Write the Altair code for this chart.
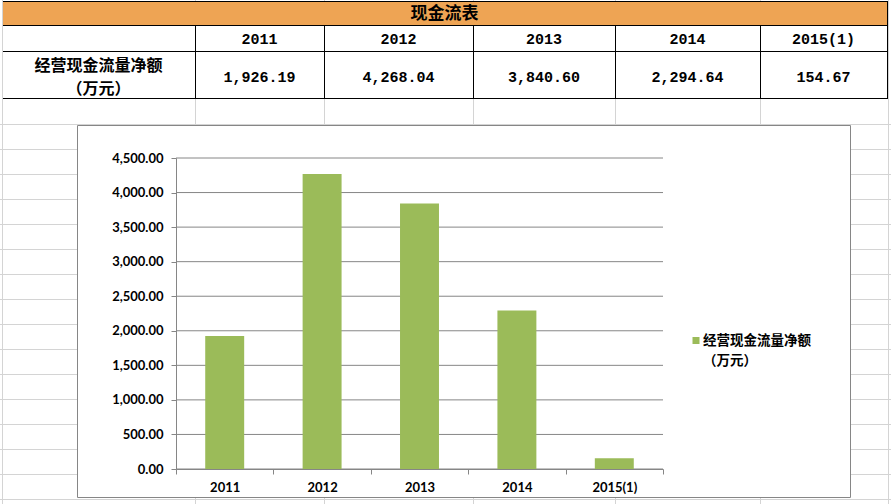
import altair as alt
import pandas as pd

# ---------------- data ----------------
years = ["2011", "2012", "2013", "2014", "2015(1)"]
cash_flow = [1926.19, 4268.04, 3840.60, 2294.64, 154.67]
series_name = "经营现金流量净额\n（万元）"
table_title = "现金流表"
y_ticks = [0, 500, 1000, 1500, 2000, 2500, 3000, 3500, 4000, 4500]

# ---------------- layout (page pixels) ----------------
PAGE_W, PAGE_H = 891, 504
OX, OY = 176, 158          # plot-area origin on the page
PW, PH = 487, 311          # plot-area size
col_edges = [2, 195, 324, 473, 615, 760, 887]
row_edges = [1, 25, 51, 98]
sheet_cols = [2, 195, 324, 473, 615, 760, 888]
sheet_rows = list(range(124, PAGE_H + 1, 25))
box = (77, 125, 850, 497)
legend_sym = (696, 340.5)
legend_text_x = 703
legend_line_y = [340.5, 360.5]
label_line_y = [65.5, 89]

GRID_GRAY = "#868686"
SHEET_GRAY = "#D4D4D4"
ORANGE = "#EEA454"
GREEN = "#9BBB59"


def px(x):
    return x - OX


def py(y):
    return y - OY


def PX(f):
    return alt.X(f"{f}:Q", scale=None, axis=None)


def PY(f):
    return alt.Y(f"{f}:Q", scale=None, axis=None)


# ---------- spreadsheet gridlines ----------
sheet_lines = []
for y in sheet_rows:
    sheet_lines.append(dict(x=px(0), x2=px(PAGE_W), y=py(y + 0.5), y2=py(y + 0.5)))
for x in sheet_cols:
    sheet_lines.append(dict(x=px(x + 0.5), x2=px(x + 0.5), y=py(0), y2=py(PAGE_H)))
sheet_layer = alt.Chart(pd.DataFrame(sheet_lines)).mark_rule(
    color=SHEET_GRAY, strokeWidth=1
).encode(x=PX("x"), x2="x2", y=PY("y"), y2="y2")

# ---------- table fills ----------
fills = pd.DataFrame([
    dict(x=px(col_edges[0] + 1), x2=px(col_edges[-1] + 1), y=py(row_edges[0]),
         y2=py(row_edges[1] + 0.5), c=ORANGE),
    dict(x=px(col_edges[0] + 1), x2=px(col_edges[-1] + 1), y=py(row_edges[1] + 0.5),
         y2=py(row_edges[-1] + 1), c="white"),
])
fill_layer = alt.Chart(fills).mark_rect(strokeWidth=0).encode(
    x=PX("x"), x2="x2", y=PY("y"), y2="y2", color=alt.Color("c:N", scale=None)
)

# ---------- table borders ----------
tlines = []
for y in row_edges:
    tlines.append(dict(x=px(col_edges[0] + 1), x2=px(col_edges[-1] + 1),
                       y=py(y + 0.5), y2=py(y + 0.5)))
for x in col_edges[1:-1]:
    tlines.append(dict(x=px(x + 0.5), x2=px(x + 0.5),
                       y=py(row_edges[1]), y2=py(row_edges[-1] + 1)))
tlines.append(dict(x=px(col_edges[-1] + 0.5), x2=px(col_edges[-1] + 0.5),
                   y=py(row_edges[0]), y2=py(row_edges[-1] + 1)))
tline_layer = alt.Chart(pd.DataFrame(tlines)).mark_rule(
    color="black", strokeWidth=1
).encode(x=PX("x"), x2="x2", y=PY("y"), y2="y2")

# ---------- table text ----------
title_df = pd.DataFrame([dict(t=table_title, x=px((col_edges[0] + col_edges[-1]) / 2),
                              y=py(13.5))])
title_layer = alt.Chart(title_df).mark_text(
    font="Noto Sans CJK SC", fontSize=17, fontWeight="bold", color="black",
    baseline="middle", align="center"
).encode(x=PX("x"), y=PY("y"), text="t:N")

label_lines = series_name.split("\n")
label_df = pd.DataFrame([
    dict(t=label_lines[i], x=px((col_edges[0] + col_edges[1]) / 2), y=py(label_line_y[i]))
    for i in range(len(label_lines))
])
label_layer = alt.Chart(label_df).mark_text(
    font="Noto Sans CJK SC", fontSize=16, fontWeight="bold", color="black",
    baseline="middle", align="center"
).encode(x=PX("x"), y=PY("y"), text="t:N")

centers = [(col_edges[i + 1] + col_edges[i + 2]) / 2 for i in range(len(years))]
year_df = pd.DataFrame(dict(t=years, x=[px(c) for c in centers], y=py(39)))
year_layer = alt.Chart(year_df).mark_text(
    font="Liberation Mono", fontSize=15, fontWeight="bold", color="black",
    baseline="middle", align="center"
).encode(x=PX("x"), y=PY("y"), text="t:N")

val_df = pd.DataFrame(dict(value=cash_flow, x=[px(c) for c in centers], y=py(77)))
val_layer = alt.Chart(val_df).mark_text(
    font="Liberation Mono", fontSize=15, fontWeight="bold", color="black",
    baseline="middle", align="center"
).encode(x=PX("x"), y=PY("y"), text=alt.Text("value:Q", format=",.2f"))

# ---------- chart box ----------
box_df = pd.DataFrame([dict(x=px(box[0] + 0.5), x2=px(box[2] + 0.5),
                            y=py(box[1] + 0.5), y2=py(box[3] + 0.5))])
box_layer = alt.Chart(box_df).mark_rect(
    fill="white", stroke=GRID_GRAY, strokeWidth=1
).encode(x=PX("x"), x2="x2", y=PY("y"), y2="y2")

# ---------- axes ----------
y_axis = alt.Axis(title=None, values=y_ticks, format=",.2f", grid=False,
                  domainColor=GRID_GRAY, tickColor=GRID_GRAY, tickSize=5,
                  labelFont="Lato", labelFontSize=13, labelFontWeight="bold",
                  labelColor="black", labelPadding=8, zindex=1)
y_scale = alt.Scale(domain=[0, 4500], nice=False, zero=True)
x_axis = alt.Axis(title=None, labelAngle=0, tickBand="extent",
                  domainColor=GRID_GRAY, tickColor=GRID_GRAY, tickSize=5,
                  labelFont="Lato", labelFontSize=13, labelFontWeight="bold",
                  labelColor="black", labelPadding=7, zindex=1)
color_scale = alt.Scale(range=[GREEN])

# ---------- value gridlines (through the y scale) ----------
grid_layer = alt.Chart(pd.DataFrame(dict(value=y_ticks))).mark_rule(
    color=GRID_GRAY, strokeWidth=1
).encode(y=alt.Y("value:Q", scale=y_scale, axis=y_axis))

# ---------- bars ----------
bar_df = pd.DataFrame(dict(year=years, value=cash_flow, series=series_name))
bars = alt.Chart(bar_df).mark_bar(width={"band": 0.4}).encode(
    x=alt.X("year:N", sort=years,
            scale=alt.Scale(paddingInner=0, paddingOuter=0), axis=x_axis),
    y=alt.Y("value:Q", scale=y_scale, axis=y_axis),
    color=alt.Color("series:N", scale=color_scale, legend=None),
)

# ---------- legend (symbol coloured through the same colour scale) ----------
leg_sym_df = pd.DataFrame(dict(series=[series_name], x=[px(legend_sym[0])],
                               y=[py(legend_sym[1])]))
leg_sym = alt.Chart(leg_sym_df).mark_square(size=49, opacity=1, strokeWidth=0).encode(
    x=PX("x"), y=PY("y"),
    color=alt.Color("series:N", scale=color_scale, legend=None),
)
leg_txt_df = pd.DataFrame(dict(t=label_lines, x=px(legend_text_x),
                               y=[py(v) for v in legend_line_y]))
leg_txt = alt.Chart(leg_txt_df).mark_text(
    font="Noto Sans CJK SC", fontSize=13.5, fontWeight="bold", color="black",
    baseline="middle", align="left"
).encode(x=PX("x"), y=PY("y"), text="t:N")

chart = alt.layer(
    sheet_layer, fill_layer, tline_layer, title_layer, label_layer, year_layer,
    val_layer, box_layer, grid_layer, bars, leg_sym, leg_txt
).properties(
    width=PW, height=PH,
    padding={"left": OX, "top": OY, "right": PAGE_W - OX - PW, "bottom": PAGE_H - OY - PH},
    autosize=alt.AutoSizeParams(type="none"),
    background="white",
).configure_view(stroke=None)

chart.save("out.html", embed_options={"renderer": "svg", "actions": False})
